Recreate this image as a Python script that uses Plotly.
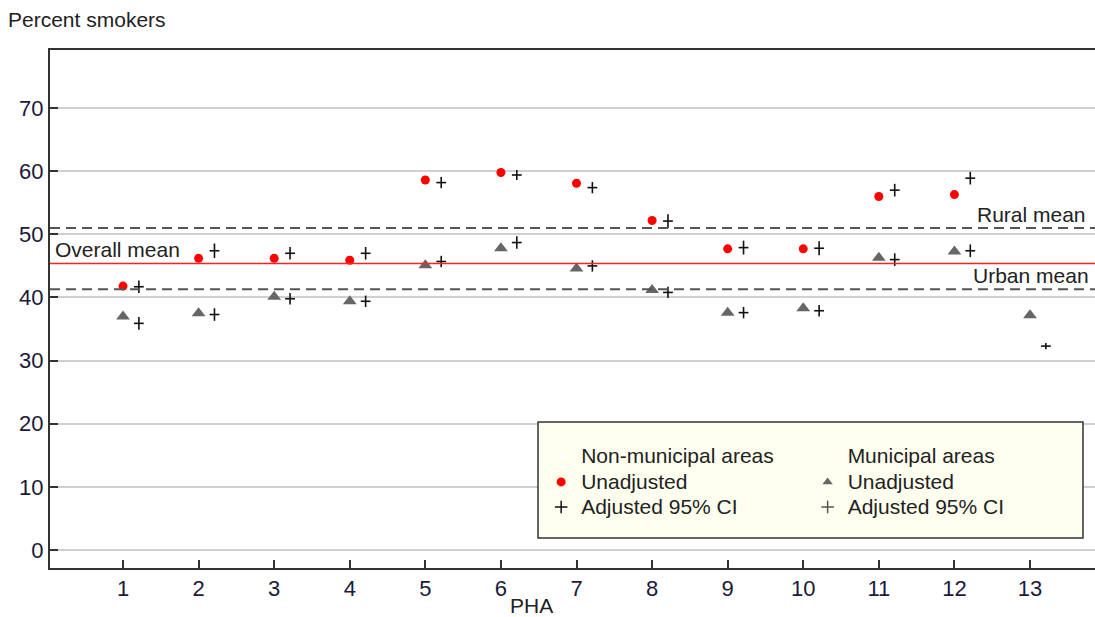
import plotly.graph_objects as go

# ---- data ----
pha = [1, 2, 3, 4, 5, 6, 7, 8, 9, 10, 11, 12, 13]
tick_labels = [str(p) for p in pha]

nm_pha = [1, 2, 3, 4, 5, 6, 7, 8, 9, 10, 11, 12]
nm_unadj = [41.8, 46.2, 46.2, 45.9, 58.6, 59.8, 58.1, 52.2, 47.7, 47.7, 56.0, 56.3]
nm_adj = [41.7, 47.4, 47.0, 47.0, 58.2, 59.4, 57.4, 52.1, 47.9, 47.8, 57.0, 58.9]
nm_ci = [1.0, 1.15, 1.0, 1.0, 0.9, 0.8, 0.9, 1.1, 1.1, 1.1, 1.0, 1.0]

m_pha = [1, 2, 3, 4, 5, 6, 7, 8, 9, 10, 11, 12, 13]
m_unadj = [37.0, 37.5, 40.1, 39.4, 45.1, 47.8, 44.6, 41.2, 37.6, 38.3, 46.3, 47.3, 37.2]
m_adj = [35.9, 37.3, 39.8, 39.4, 45.7, 48.7, 45.0, 40.8, 37.6, 37.9, 46.0, 47.4, 32.3]
m_ci = [1.0, 1.0, 0.9, 0.9, 0.9, 1.0, 0.9, 0.9, 0.9, 0.9, 1.0, 1.0, 0.5]

rural_mean = 51.0
overall_mean = 45.4
urban_mean = 41.3

y_ticks = [0, 10, 20, 30, 40, 50, 60, 70]

# ---- styling ----
OFF = 0.21
FONT = "Liberation Sans, Arial, sans-serif"
TXT = "#222222"
TICKC = "#1a1a3a"
TSIZE = 21


def big(t):
    return '<span style="font-size:21px">' + t + '</span>'


fig = go.Figure()

# data traces
fig.add_trace(go.Scatter(x=nm_pha, y=nm_unadj, mode="markers",
                         marker=dict(symbol="circle", size=9, color="#ff0000"),
                         showlegend=False))
fig.add_trace(go.Scatter(x=[p + OFF for p in nm_pha], y=nm_adj, mode="markers",
                         marker=dict(symbol="line-ew", size=7, line=dict(color="#111111", width=1.6)),
                         error_y=dict(type="data", array=nm_ci, visible=True, thickness=1.6, width=0, color="#111111"),
                         showlegend=False))
fig.add_trace(go.Scatter(x=m_pha, y=m_unadj, mode="markers",
                         marker=dict(symbol="triangle-up", size=12, color="#666666"),
                         showlegend=False))
fig.add_trace(go.Scatter(x=[p + OFF for p in m_pha], y=m_adj, mode="markers",
                         marker=dict(symbol="line-ew", size=7, line=dict(color="#111111", width=1.6)),
                         error_y=dict(type="data", array=m_ci, visible=True, thickness=1.6, width=0, color="#111111"),
                         showlegend=False))

# legend-only traces
fig.add_trace(go.Scatter(x=[None], y=[None], mode="markers", name=big("Non-municipal areas"),
                         marker=dict(symbol="circle", size=6, color="white"), legend="legend"))
fig.add_trace(go.Scatter(x=[None], y=[None], mode="markers", name=big("Unadjusted"),
                         marker=dict(symbol="circle", size=9, color="#ff0000"), legend="legend"))
fig.add_trace(go.Scatter(x=[None], y=[None], mode="markers", name=big("Adjusted 95% CI"),
                         marker=dict(symbol="cross-thin", size=9, line=dict(color="#111111", width=1.5)),
                         legend="legend"))
fig.add_trace(go.Scatter(x=[None], y=[None], mode="markers", name=big("Municipal areas"),
                         marker=dict(symbol="circle", size=6, color="rgba(0,0,0,0)"), legend="legend2"))
fig.add_trace(go.Scatter(x=[None], y=[None], mode="markers", name=big("Unadjusted"),
                         marker=dict(symbol="triangle-up", size=9, color="#666666"), legend="legend2"))
fig.add_trace(go.Scatter(x=[None], y=[None], mode="markers", name=big("Adjusted 95% CI"),
                         marker=dict(symbol="cross-thin", size=9, line=dict(color="#555555", width=1.5)),
                         legend="legend2"))

# mean lines
fig.add_shape(type="line", xref="paper", x0=0, x1=1, yref="y", y0=rural_mean, y1=rural_mean,
              line=dict(color="#555555", width=2, dash="10px,6px"))
fig.add_shape(type="line", xref="paper", x0=0, x1=1, yref="y", y0=urban_mean, y1=urban_mean,
              line=dict(color="#555555", width=2, dash="10px,6px"))
fig.add_shape(type="line", xref="paper", x0=0, x1=1, yref="y", y0=overall_mean, y1=overall_mean,
              line=dict(color="#ff2020", width=1.5))

# legend box
fig.add_shape(type="rect", xref="paper", yref="paper", x0=0.467, x1=0.9885, y0=0.058, y1=0.282,
              fillcolor="#fffff0", line=dict(color="#333333", width=1.5), layer="above")

fig.add_annotation(text="Rural mean", xref="paper", x=0.993, xanchor="right",
                   yref="y", y=rural_mean, yanchor="bottom", showarrow=False,
                   font=dict(family=FONT, size=TSIZE, color=TXT))
fig.add_annotation(text="Urban mean", xref="paper", x=0.996, xanchor="right",
                   yref="y", y=urban_mean, yanchor="bottom", showarrow=False,
                   font=dict(family=FONT, size=TSIZE, color=TXT))
fig.add_annotation(text="Overall mean", xref="paper", x=0.003, xanchor="left",
                   yref="y", y=overall_mean, yanchor="bottom", showarrow=False,
                   font=dict(family=FONT, size=TSIZE, color=TXT))
fig.add_annotation(text="Percent smokers", xref="paper", x=-0.042, xanchor="left",
                   yref="paper", y=1.058, yanchor="middle", showarrow=False,
                   font=dict(family=FONT, size=TSIZE, color=TXT))
fig.add_annotation(text="PHA", xref="paper", x=0.461, xanchor="center",
                   yref="paper", y=-0.072, yanchor="middle", showarrow=False,
                   font=dict(family=FONT, size=TSIZE, color=TXT))

fig.update_layout(
    width=1095, height=617,
    margin=dict(l=50, r=0, t=50, b=49),
    paper_bgcolor="white", plot_bgcolor="white",
    font=dict(family=FONT, size=TSIZE, color=TXT),
    xaxis=dict(range=[0.034, 13.86], tickvals=pha, ticktext=tick_labels,
               showgrid=False, zeroline=False, showline=True, linecolor="#333333", linewidth=2,
               mirror=True, ticks="inside", ticklen=8, tickwidth=2, tickcolor="#333333",
               tickfont=dict(family=FONT, size=22, color=TICKC)),
    yaxis=dict(range=[-2.85, 79.2], tickvals=y_ticks,
               showgrid=True, gridcolor="#d0d0d0", gridwidth=1.5, zeroline=False,
               showline=True, linecolor="#333333", linewidth=2,
               ticks="inside", ticklen=8, tickwidth=2, tickcolor="#333333",
               tickfont=dict(family=FONT, size=22, color=TICKC)),
    legend=dict(x=0.47, xanchor="left", y=0.2485, yanchor="top", bgcolor="rgba(0,0,0,0)",
                borderwidth=0, traceorder="normal", itemwidth=30, tracegroupgap=0,
                font=dict(family=FONT, size=17, color=TXT)),
    legend2=dict(x=0.725, xanchor="left", y=0.2485, yanchor="top", bgcolor="rgba(0,0,0,0)",
                 borderwidth=0, traceorder="normal", itemwidth=30, tracegroupgap=0,
                 font=dict(family=FONT, size=17, color=TXT)),
)

fig.write_html("out.html", config={"displayModeBar": False},
               post_script="document.body.style.margin='0';")
